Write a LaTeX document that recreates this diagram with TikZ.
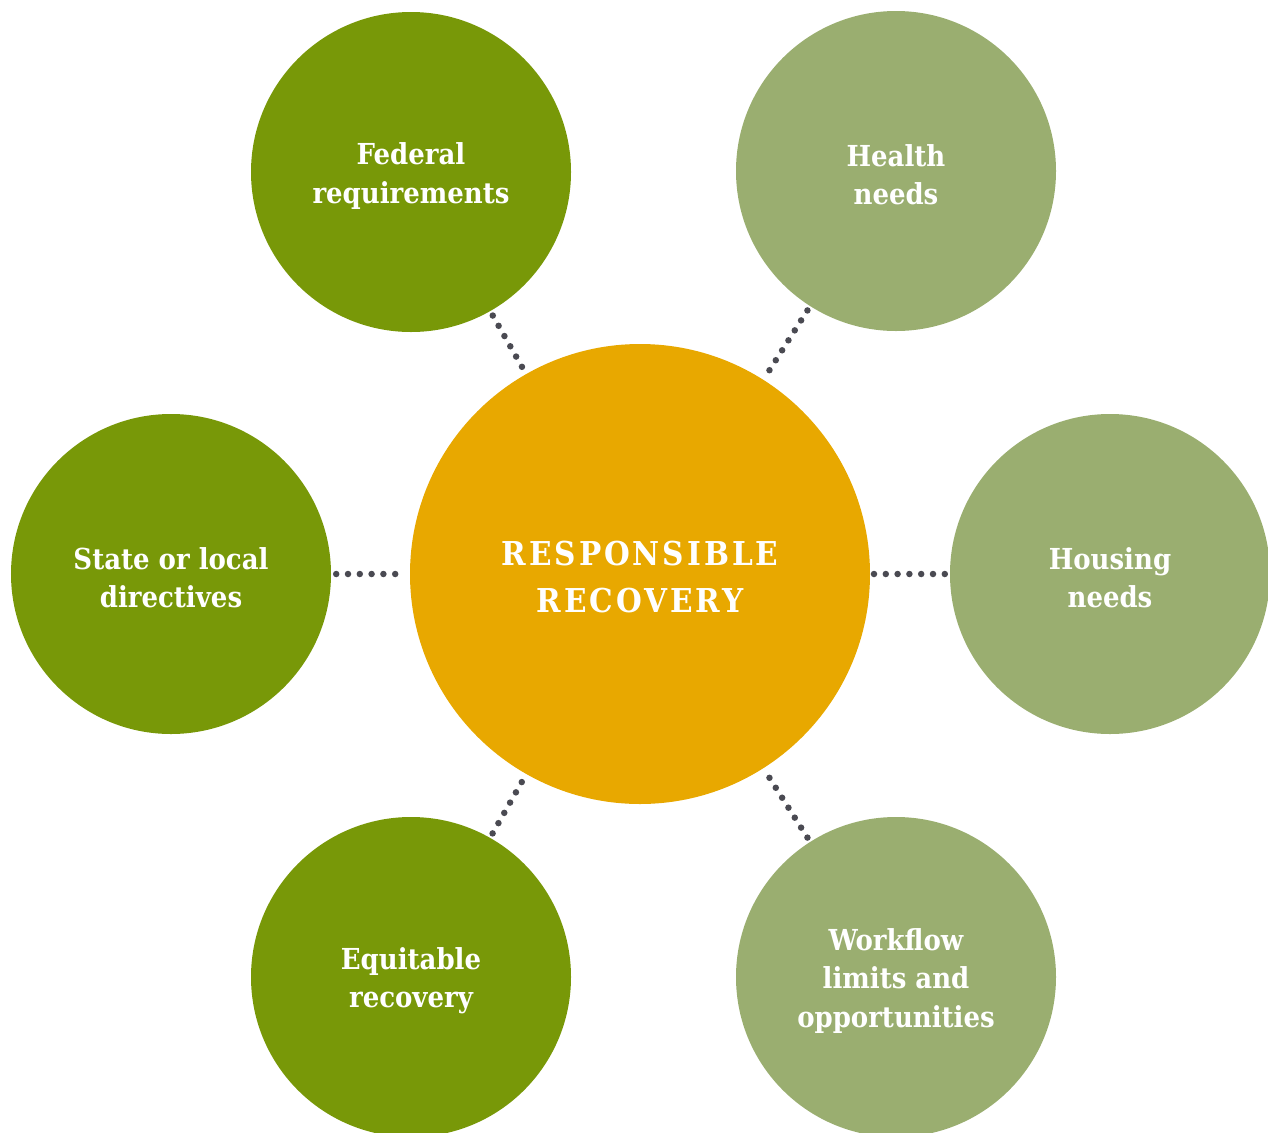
\documentclass[tikz,border=0pt]{standalone}
\usepackage{fontspec}
\newfontfamily\labfont{DejaVu Serif Condensed}[BoldFont={DejaVu Serif Condensed Bold}]
\definecolor{darkgreen}{HTML}{789808}
\definecolor{lightgreen}{HTML}{9AAE70}
\definecolor{coreorange}{HTML}{E8A800}
\definecolor{dotgray}{HTML}{4A4A52}
\begin{document}
\begin{tikzpicture}[x=1bp,y=-1bp,
  outer/.style={circle,minimum size=320bp,inner sep=0pt},
  darkc/.style={outer,fill=darkgreen},
  lightc/.style={outer,fill=lightgreen},
  outtxt/.style={text=white,align=center,inner sep=0pt,yshift=-4bp,
    font=\labfont\bfseries\fontsize{29}{38.5}\selectfont},
  core/.style={circle,minimum size=460bp,inner sep=0pt,fill=coreorange},
  coretxt/.style={text=white,align=center,inner sep=0pt,yshift=-3bp,
    font=\labfont\bfseries\fontsize{33}{48}\selectfont\addfontfeatures{LetterSpace=9}},
  link/.style={draw=dotgray,line width=6.5bp,line cap=round,dash pattern=on 0pt off 11.8bp,
    shorten <=5bp,shorten >=3bp}]
\useasboundingbox (0,0) rectangle (1268,1133);
\clip (0,0) rectangle (1268,1133);
\node[core,label={[coretxt]center:RESPONSIBLE\\RECOVERY}] (c) at (640,574) {};
\node[darkc,label={[outtxt]center:Federal\\requirements}] (fed) at (411,172) {};
\node[lightc,label={[outtxt]center:Health\\needs}] (hea) at (896,171) {};
\node[darkc,label={[outtxt]center:State or local\\directives}] (sta) at (171,574) {};
\node[lightc,label={[outtxt]center:Housing\\needs}] (hou) at (1110,574) {};
\node[darkc,label={[outtxt]center:Equitable\\recovery}] (equ) at (411,977) {};
\node[lightc,label={[outtxt]center:Workflow\\limits and\\opportunities}] (wor) at (896,977) {};
\draw[link] (fed) -- (c);
\draw[link] (hea) -- (c);
\draw[link] (sta) -- (c);
\draw[link] (hou) -- (c);
\draw[link] (equ) -- (c);
\draw[link] (wor) -- (c);
\end{tikzpicture}
\end{document}
